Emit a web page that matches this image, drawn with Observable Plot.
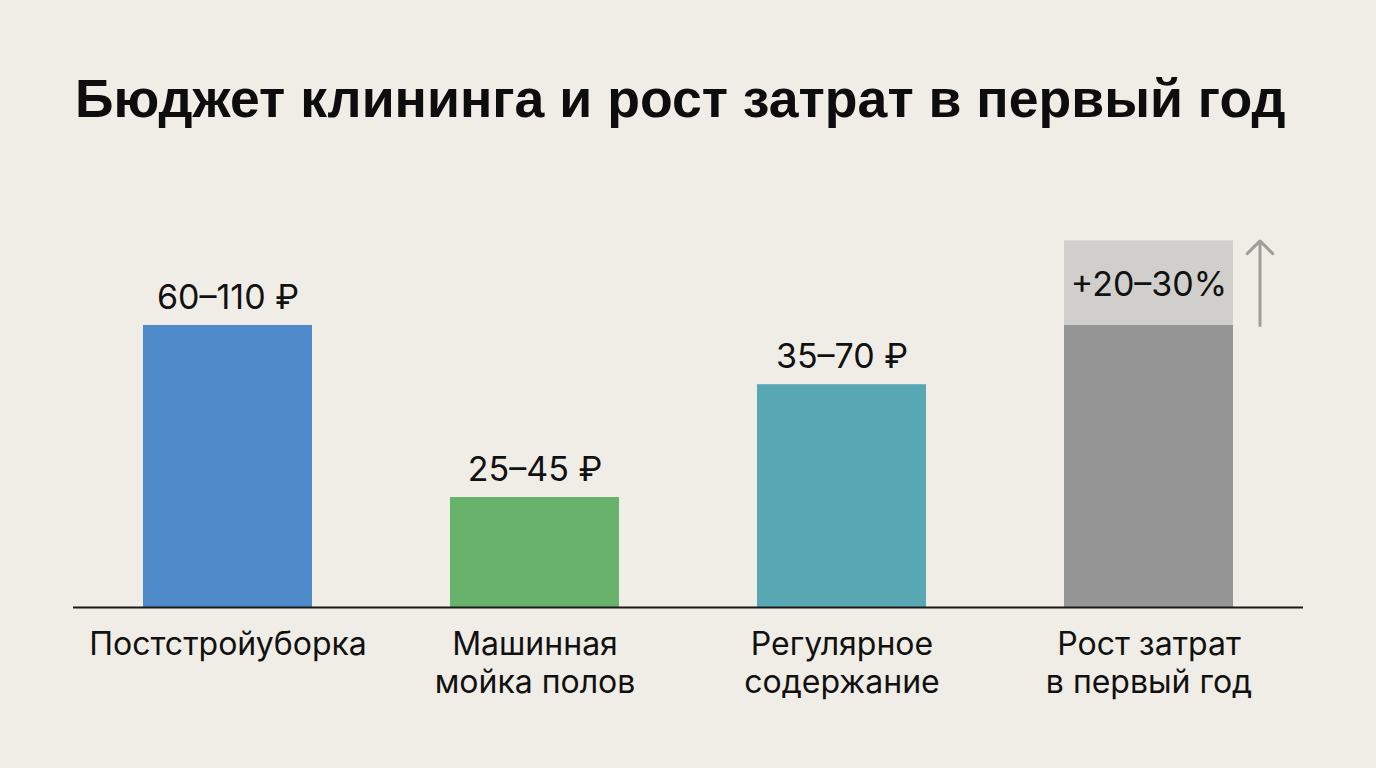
<!DOCTYPE html>
<html>
<head>
<meta charset="utf-8">
<script src="https://cdn.jsdelivr.net/npm/d3@7"></script>
<script src="https://cdn.jsdelivr.net/npm/@observablehq/plot@0.6"></script>
<style>
  html, body { margin: 0; padding: 0; background: #f0ede6; }
  #title { height: 160px; box-sizing: border-box; padding-left: 75px; padding-top: 72px;
    font-family: "Liberation Sans", Arial, sans-serif; font-weight: bold; font-size: 53.6px; line-height: 1; color: #0d0d0d; white-space: nowrap; }
  #chart svg { display: block; }
</style>
</head>
<body>
<div id="title">Бюджет клининга и рост затрат в первый год</div>
<div id="chart"></div>
<script>
const categories = ["Постстройуборка", "Машинная мойка полов", "Регулярное содержание", "Рост затрат в первый год"];
const categoryLabels = ["Постстройуборка", "Машинная\nмойка полов", "Регулярное\nсодержание", "Рост затрат\nв первый год"];
const values = [100, 39, 79, 100];
const valueLabels = ["60–110 ₽", "25–45 ₽", "35–70 ₽", ""];
const barColors = ["#4f8bcb", "#67b36b", "#58a8b3", "#959595"];
const growthBase = 100;
const growthTop = 130;
const growthLabel = "+20–30%";

const data = categories.map((c, i) => ({cat: c, label: categoryLabels[i], value: values[i], vlabel: valueLabels[i], color: barColors[i]}));
const growth = [{cat: categories[3], y1: growthBase, y2: growthTop, label: growthLabel}];
const font = "Inter, 'Noto Sans', sans-serif";

const chart = Plot.plot({
  width: 1376,
  height: 608,
  marginLeft: 73,
  marginRight: 73,
  marginTop: 24,
  marginBottom: 161,
  style: {background: "transparent", fontFamily: font},
  x: {domain: categories, paddingInner: 0.45, paddingOuter: 0.228, axis: null},
  y: {domain: [0, 150], axis: null},
  color: {type: "identity"},
  marks: [
    Plot.barY(data, {x: "cat", y: "value", fill: "color"}),
    Plot.barY(growth, {x: "cat", y1: "y1", y2: "y2", fill: "#d0cfcb"}),
    Plot.ruleY([0], {stroke: "#1a1a1a", strokeWidth: 2}),
    Plot.text(data.filter(d => d.vlabel), {x: "cat", y: "value", text: "vlabel", dy: -16.5, lineAnchor: "bottom", fontSize: 34, fill: "#111"}),
    Plot.text(growth, {x: "cat", y: d => (d.y1 + d.y2) / 2, text: "label", dy: 2, lineAnchor: "middle", fontSize: 34, fill: "#111"}),
    Plot.arrow(growth, {x: "cat", y1: "y1", y2: "y2", dx: 111, stroke: "#a09e9b", strokeWidth: 3, headLength: 9, headAngle: 90}),
    Plot.text(data, {x: "cat", y: 0, text: "label", dy: 21, lineAnchor: "top", fontSize: 32, lineHeight: 1.18, fill: "#111"})
  ]
});
document.getElementById("chart").appendChild(chart);
</script>
</body>
</html>
